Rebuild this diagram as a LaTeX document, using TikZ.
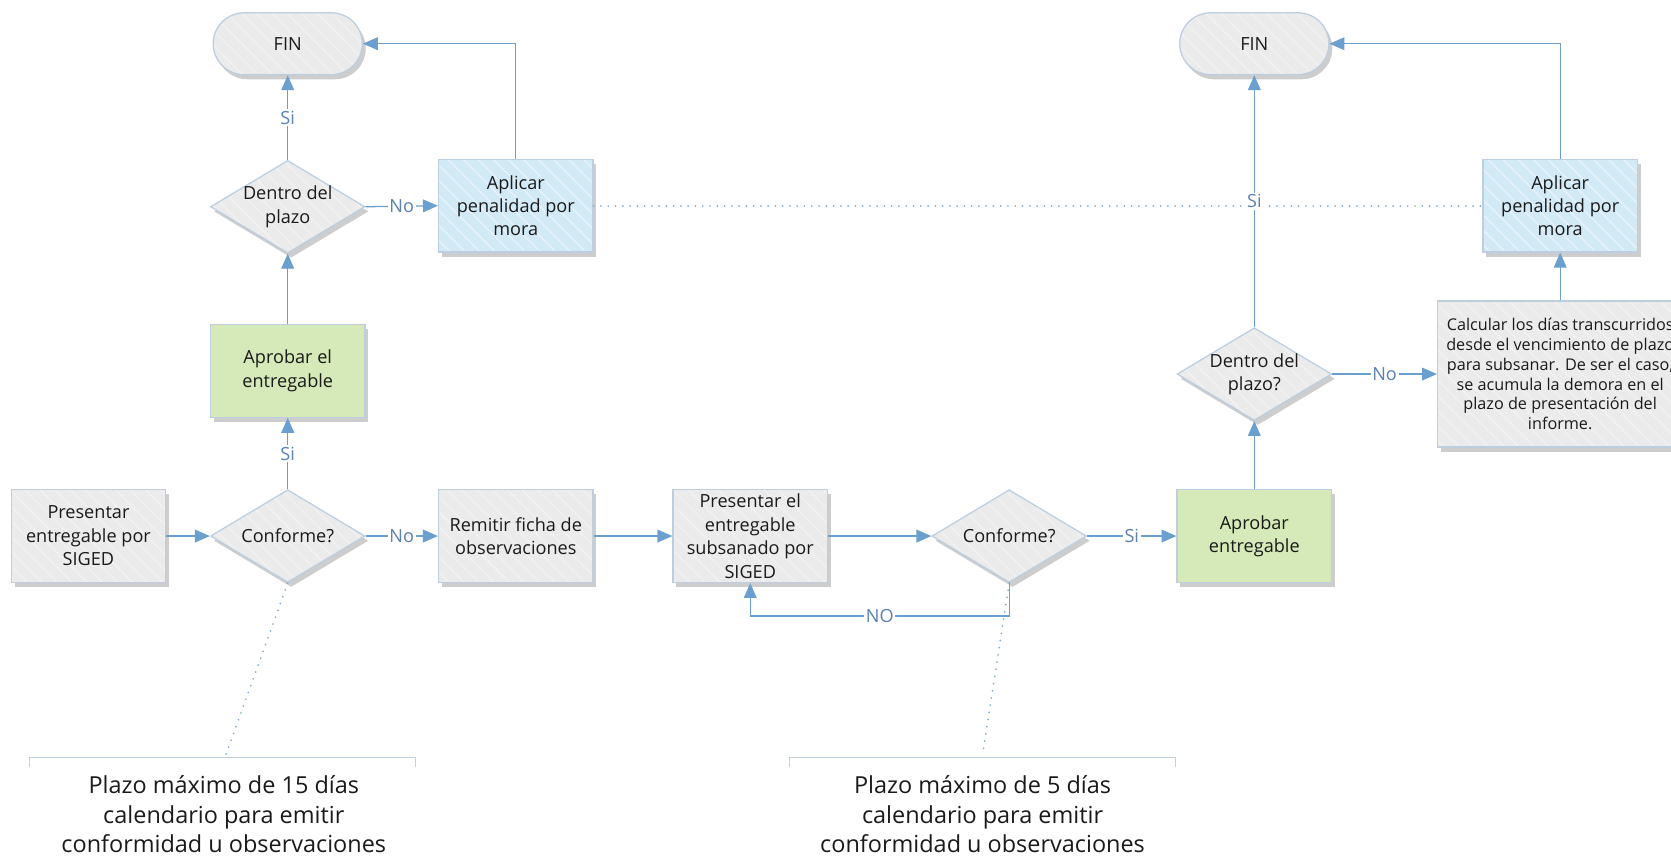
\documentclass[tikz,border=0pt]{standalone}
\usepackage{fontspec}
\setmainfont{Open Sans}
\usetikzlibrary{shapes.geometric,shapes.misc,arrows.meta,patterns.meta,shadows}
\definecolor{bordc}{HTML}{BCCEDF}
\definecolor{grayfill}{HTML}{EBEBEB}
\definecolor{graystripe}{HTML}{F2F2F2}
\definecolor{greenfill}{HTML}{D5EAB8}
\definecolor{bluefill}{HTML}{D2E9F6}
\definecolor{bluestripe}{HTML}{E8F4FB}
\definecolor{shad}{HTML}{CDCDCD}
\definecolor{conn}{HTML}{6A9FD0}
\definecolor{labc}{HTML}{5A82AE}
\definecolor{dotc}{HTML}{7FAAD4}
\definecolor{brk}{HTML}{C3D2DF}
\definecolor{txt}{HTML}{1A1A1A}
\tikzset{
  base/.style={draw=bordc, line width=0.6pt, inner sep=1pt, align=center, text=txt,
    font=\fontsize{8.5}{11}\selectfont,
    drop shadow={shadow xshift=1.6pt, shadow yshift=-2.2pt, fill=shad, opacity=1}},
  stripes/.style={pattern={Lines[angle=-45,distance=5pt,line width=0.6pt]}},
  boxsize/.style={minimum width=72.5pt, minimum height=43.5pt},
  graybox/.style={base, rectangle, boxsize, preaction={fill=grayfill}, stripes, pattern color=graystripe},
  greenbox/.style={base, rectangle, boxsize, fill=greenfill},
  bluebox/.style={base, rectangle, boxsize, preaction={fill=bluefill}, stripes, pattern color=bluestripe},
  termbox/.style={base, rounded rectangle, minimum width=72pt, minimum height=29pt, preaction={fill=grayfill}, stripes, pattern color=graystripe},
  decbox/.style={base, diamond, minimum width=72.5pt, minimum height=43.5pt, inner sep=0pt, aspect=1.66,
    preaction={fill=grayfill}, stripes, pattern color=graystripe},
  dectext/.style={font=\fontsize{8.5}{11}\selectfont, text=txt, align=center},
  connl/.style={draw=conn, line width=0.6pt, -{Triangle[length=7pt,width=6pt]}},
  lab/.style={fill=white, inner sep=0.8pt, text=labc, font=\fontsize{8.5}{10}\selectfont},
  dotl/.style={draw=dotc, line width=0.9pt, dash pattern=on 0.01pt off 3.4pt, line cap=round},
  brkl/.style={draw=brk, line width=0.6pt},
  notetext/.style={align=center, text=txt, font=\fontsize{11}{14}\selectfont, inner sep=0pt}
}
\begin{document}
\begin{tikzpicture}[x=0.5pt,y=-0.5pt]
\useasboundingbox (0,0) rectangle (1568,804);

\coordinate (n1top) at (212,708);
\coordinate (n2top) at (922,708);

% nodes
\node[termbox] (fin1) at (270,41) {FIN};
\node[decbox, label={[dectext]center:Dentro del\\plazo}] (dp1) at (270,194) {};
\node[bluebox] (ap1) at (484,193) {Aplicar\\penalidad por\\mora};
\node[greenbox] (apr1) at (270,348) {Aprobar el\\entregable};
\node[graybox] (pres) at (83,503) {Presentar\\entregable por\\SIGED};
\node[decbox, label={[dectext]center:Conforme?}] (conf1) at (270,503) {};
\node[graybox] (rem) at (484,503) {Remitir ficha de\\observaciones};
\node[graybox] (pres2) at (704,503) {Presentar el\\entregable\\subsanado por\\SIGED};
\node[decbox, label={[dectext]center:Conforme?}] (conf2) at (947,503) {};
\node[greenbox] (apr2) at (1177,503) {Aprobar\\entregable};
\node[decbox, label={[dectext]center:Dentro del\\plazo?}] (dp2) at (1177,351) {};
\node[termbox] (fin2) at (1177,41) {FIN};
\node[bluebox] (ap2) at (1464,193) {Aplicar\\penalidad por\\mora};
\node[graybox, minimum width=115pt, minimum height=68.5pt, font=\fontsize{7.6}{9.3}\selectfont] (calc) at (1464,351)
  {Calcular los días transcurridos\\desde el vencimiento de plazo\\para subsanar. De ser el caso,\\se acumula la demora en el\\plazo de presentación del\\informe.};

% dotted lines
\draw[dotl] (ap1.east) -- (ap2.west);
\draw[dotl] (conf1.south) -- (n1top);
\draw[dotl] (conf2.south) -- (n2top);

% connectors
\draw[connl] (dp1.north) -- node[lab]{Si} (fin1.south);
\draw[connl] (dp1.east) -- node[lab]{No} (ap1.west);
\draw[connl] (ap1.north) |- (fin1.east);
\draw[connl] (apr1.north) -- (dp1.south);
\draw[connl] (conf1.north) -- node[lab]{Si} (apr1.south);
\draw[connl] (pres.east) -- (conf1.west);
\draw[connl] (conf1.east) -- node[lab]{No} (rem.west);
\draw[connl] (rem.east) -- (pres2.west);
\draw[connl] (pres2.east) -- (conf2.west);
\draw[connl] (conf2.east) -- node[lab]{Si} (apr2.west);
\coordinate (loopc) at (947,578);
\draw[connl] (conf2.south) -- (loopc) -| node[lab, pos=0.25]{NO} (pres2.south);
\draw[connl] (apr2.north) -- (dp2.south);
\draw[connl] (dp2.north) -- node[lab]{Si} (fin2.south);
\draw[connl] (dp2.east) -- node[lab]{No} (calc.west);
\draw[connl] (calc.north) -- (ap2.south);
\draw[connl] (ap2.north) |- (fin2.east);

% annotation brackets
\coordinate (b1l) at (28,720);
\coordinate (b1r) at (390,720);
\coordinate (b2l) at (741,720);
\coordinate (b2r) at (1103,720);
\draw[brkl] (b1l) -- ++(0,-9) -- ++(362,0) -- (b1r);
\draw[brkl] (b2l) -- ++(0,-9) -- ++(362,0) -- (b2r);
\node[notetext] (note1) at (210,764) {Plazo máximo de 15 días\\calendario para emitir\\conformidad u observaciones};
\node[notetext] (note2) at (922,764) {Plazo máximo de 5 días\\calendario para emitir\\conformidad u observaciones};
\end{tikzpicture}
\end{document}
